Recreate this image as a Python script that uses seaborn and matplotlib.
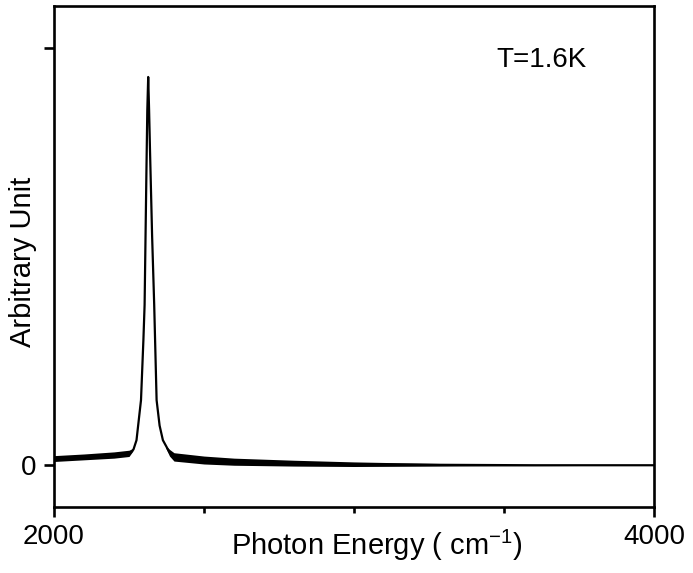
import numpy as np
import pandas as pd
import matplotlib
matplotlib.use("Agg")
import matplotlib.pyplot as plt
import seaborn as sns

# Spectrum (cm^-1, arbitrary units)
energy = [2000, 2100, 2150, 2200, 2240, 2255, 2265, 2275, 2290, 2298, 2302,
          2308, 2311, 2314, 2317, 2320, 2327, 2334, 2342, 2352, 2363, 2385,
          2400, 2430, 2500, 2600, 2800, 3000, 3300, 3600, 4000]
intensity = [0.016, 0.020, 0.022, 0.025, 0.028, 0.030, 0.038, 0.060, 0.156,
             0.300, 0.384, 0.700, 0.850, 0.930, 0.850, 0.755, 0.550, 0.384,
             0.156, 0.095, 0.060, 0.031, 0.020, 0.015, 0.012, 0.008, 0.005,
             0.002, 0.001, 0.000, 0.000]

# Visible noise band around the baseline (upper / lower envelope)
band_left_x = [2000, 2100, 2200, 2250, 2263]
band_left_hi = [0.023, 0.027, 0.032, 0.036, 0.040]
band_left_lo = [0.009, 0.013, 0.017, 0.021, 0.034]
band_right_x = [2372, 2385, 2400, 2500, 2600, 2800, 3000, 3300, 3600, 4000]
band_right_hi = [0.047, 0.038, 0.030, 0.022, 0.017, 0.012, 0.008, 0.004, 0.001, 0.000]
band_right_lo = [0.042, 0.022, 0.010, 0.003, 0.000, -0.002, -0.003, -0.002, -0.001, 0.000]

x_ticks_major = [2000, 4000]
x_ticks_minor = [2500, 3000, 3500]
x_tick_labels = ["2000", "4000"]
y_ticks = [0, 1]
y_tick_labels = ["0", ""]

sns.set_theme(style="ticks")
plt.rcParams["font.family"] = ["Liberation Sans", "DejaVu Sans"]
plt.rcParams["mathtext.default"] = "regular"

fig = plt.figure(figsize=(6.93, 5.73), dpi=100)
ax = fig.add_axes([54 / 693, 1 - 507 / 573, 600 / 693, 501 / 573])

df = pd.DataFrame({"energy": energy, "intensity": intensity})
sns.lineplot(data=df, x="energy", y="intensity", ax=ax, color="black",
             linewidth=1.6, estimator=None, sort=False)
ax.fill_between(band_left_x, band_left_lo, band_left_hi, color="black", lw=0)
ax.fill_between(band_right_x, band_right_lo, band_right_hi, color="black", lw=0)

ax.set_xlim(2000, 4000)
ax.set_ylim(-0.1, 1.1)
ax.set_xticks(x_ticks_major)
ax.set_xticklabels(x_tick_labels)
ax.set_xticks(x_ticks_minor, minor=True)
ax.set_yticks(y_ticks)
ax.set_yticklabels(y_tick_labels)

for s in ax.spines.values():
    s.set_visible(True)
    s.set_linewidth(1.9)
    s.set_color("black")

ax.tick_params(axis="both", which="major", direction="out", length=7.5,
               width=1.9, color="black", labelsize=20, labelcolor="black", pad=5)
ax.tick_params(axis="x", which="minor", direction="out", length=4,
               width=1.9, color="black")

ax.set_xlabel("Photon Energy ( cm$^{-1}$)", fontsize=21, color="black")
ax.set_ylabel("Arbitrary Unit", fontsize=21, color="black")
ax.xaxis.set_label_coords(0.538, -0.042)
ax.yaxis.set_label_coords(-0.028, 0.49)

ax.text(0.812, 0.892, "T=1.6K", transform=ax.transAxes, fontsize=20,
        ha="center", va="center", color="black")

fig.savefig("out.png", dpi=100)
